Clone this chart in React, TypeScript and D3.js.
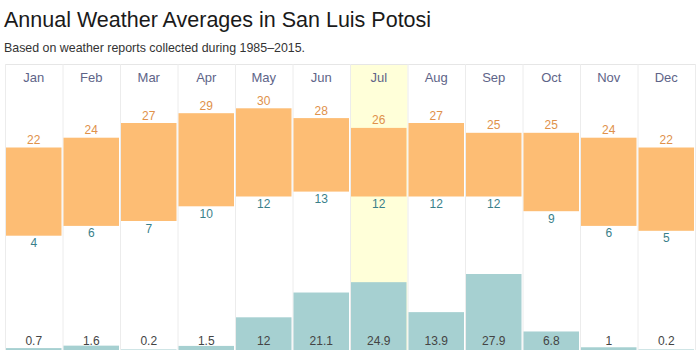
import React, { useEffect, useRef } from 'react';
import * as d3 from 'd3';

const months = ['Jan', 'Feb', 'Mar', 'Apr', 'May', 'Jun', 'Jul', 'Aug', 'Sep', 'Oct', 'Nov', 'Dec'];
const highs = [22, 24, 27, 29, 30, 28, 26, 27, 25, 25, 24, 22];
const lows = [4, 6, 7, 10, 12, 13, 12, 12, 12, 9, 6, 5];
const precip = [0.7, 1.6, 0.2, 1.5, 12, 21.1, 24.9, 13.9, 27.9, 6.8, 1, 0.2];
const highlightMonth = 'Jul';

const App = () => {
  const svgRef = useRef<SVGSVGElement>(null);

  useEffect(() => {
    const width = 700;
    const height = 350;
    const gridTop = 64;
    const font = '"Liberation Sans", Arial, sans-serif';

    const svg = d3.select(svgRef.current);
    svg.selectAll('*').remove();
    svg.attr('width', width).attr('height', height).style('font-family', font);

    const x = d3.scaleBand<string>().domain(months).range([5, 695]).padding(0);
    const yTemp = d3.scaleLinear().domain([4, 30]).range([235.7, 108.3]);
    const yRain = d3.scaleLinear().domain([0, 27.9]).range([350, 274]);

    svg.append('text')
      .attr('x', 4)
      .attr('y', 27)
      .attr('font-size', 21.5)
      .attr('fill', '#1a1a1a')
      .text('Annual Weather Averages in San Luis Potosi');

    svg.append('text')
      .attr('x', 4)
      .attr('y', 52)
      .attr('font-size', 12.4)
      .attr('fill', '#333')
      .text('Based on weather reports collected during 1985–2015.');

    // highlighted column
    svg.append('rect')
      .attr('x', x(highlightMonth)!)
      .attr('y', gridTop)
      .attr('width', x.bandwidth())
      .attr('height', height - gridTop)
      .attr('fill', '#ffffd9');

    // grid
    svg.append('line')
      .attr('x1', 5).attr('x2', 695)
      .attr('y1', gridTop + 0.5).attr('y2', gridTop + 0.5)
      .attr('stroke', '#e6e6e6');
    svg.selectAll('.vline')
      .data([...months, 'end'])
      .enter()
      .append('line')
      .attr('x1', d => (d === 'end' ? 695 : x(d)!) + 0.5)
      .attr('x2', d => (d === 'end' ? 695 : x(d)!) + 0.5)
      .attr('y1', gridTop)
      .attr('y2', height)
      .attr('stroke', '#ececec');

    const cols = svg.selectAll('.col')
      .data(months)
      .enter()
      .append('g');

    cols.append('text')
      .attr('x', d => x(d)! + x.bandwidth() / 2)
      .attr('y', 82)
      .attr('text-anchor', 'middle')
      .attr('font-size', 13)
      .attr('fill', '#5e6488')
      .text(d => d);

    cols.append('rect')
      .attr('x', d => x(d)! + 1)
      .attr('width', x.bandwidth() - 2)
      .attr('y', (d, i) => yTemp(highs[i]))
      .attr('height', (d, i) => yTemp(lows[i]) - yTemp(highs[i]))
      .attr('fill', '#fdbd74');

    cols.append('text')
      .attr('x', d => x(d)! + x.bandwidth() / 2)
      .attr('y', (d, i) => yTemp(highs[i]) - 3.5)
      .attr('text-anchor', 'middle')
      .attr('font-size', 12)
      .attr('fill', '#e0914a')
      .text((d, i) => highs[i]);

    cols.append('text')
      .attr('x', d => x(d)! + x.bandwidth() / 2)
      .attr('y', (d, i) => yTemp(lows[i]) + 11.5)
      .attr('text-anchor', 'middle')
      .attr('font-size', 12)
      .attr('fill', '#3a7f8a')
      .text((d, i) => lows[i]);

    cols.append('rect')
      .attr('x', d => x(d)! + 1)
      .attr('width', x.bandwidth() - 2)
      .attr('y', (d, i) => yRain(precip[i]))
      .attr('height', (d, i) => yRain(0) - yRain(precip[i]))
      .attr('fill', '#a6d0d1');

    cols.append('text')
      .attr('x', d => x(d)! + x.bandwidth() / 2)
      .attr('y', 345)
      .attr('text-anchor', 'middle')
      .attr('font-size', 12)
      .attr('fill', '#444')
      .text((d, i) => precip[i]);
  }, []);

  return (
    <div style={{ position: 'absolute', left: 0, top: 0 }}>
      <svg ref={svgRef} style={{ display: 'block' }}></svg>
    </div>
  );
};

export default App;
